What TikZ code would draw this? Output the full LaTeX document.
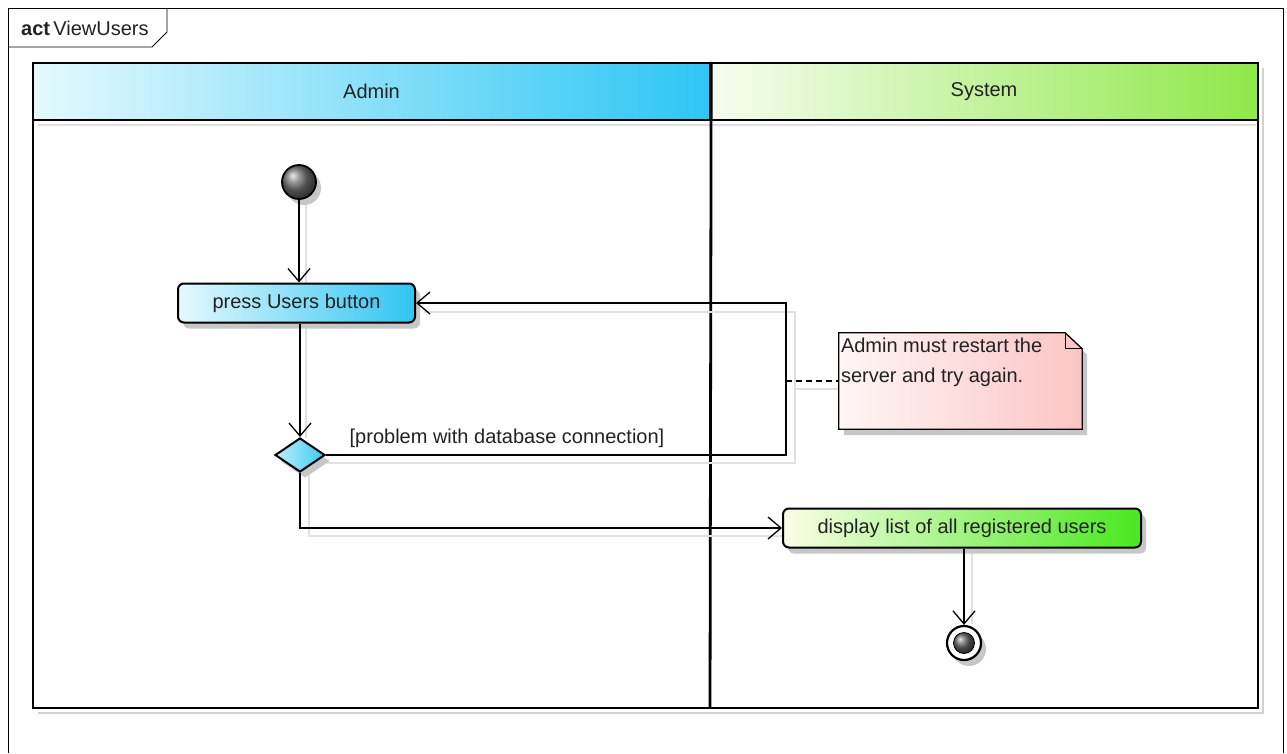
\documentclass[tikz,border=0pt]{standalone}
\usepackage{fontspec}
\setmainfont{Liberation Sans}
\usetikzlibrary{arrows.meta,shapes.geometric,shadows}
\definecolor{adminL}{HTML}{E4F9FE}
\definecolor{adminR}{HTML}{2DC6F4}
\definecolor{sysL}{HTML}{F6FDF0}
\definecolor{sysR}{HTML}{8FE849}
\definecolor{cyanL}{HTML}{E4F9FE}
\definecolor{cyanR}{HTML}{30C4F2}
\definecolor{greenL}{HTML}{FBFEE6}
\definecolor{greenR}{HTML}{48E81E}
\definecolor{noteL}{HTML}{FFF6F6}
\definecolor{noteR}{HTML}{FCC4C4}
\definecolor{diaL}{HTML}{BDEFFB}
\definecolor{diaR}{HTML}{3CCAF3}
\definecolor{txt}{HTML}{222222}
\begin{document}
\begin{tikzpicture}[x=1pt,y=-1pt,
  every node/.style={font=\fontsize{20}{30}\selectfont, text=txt},
  lane/.style={draw, line width=2.4pt},
  header/.style={draw, line width=2.4pt, minimum height=57pt, inner sep=0},
  sh/.style={drop shadow={shadow xshift=5pt, shadow yshift=-6pt, fill=black!22, opacity=1}},
  action/.style={draw, line width=2pt, rounded corners=6pt, minimum height=39pt, inner sep=0, sh},
  flow/.style={line width=1.3pt, -{Straight Barb[length=13pt,width=22pt,line width=1.3pt]}},
  ghost/.style={black!12, line width=1.2pt},
]
\useasboundingbox (0,0) rectangle (1287,753);
\fill[white] (0,0) rectangle (1287,753);

% outer frame and tag
\draw[line width=0.9pt] (8,753) -- (8,8) -- (1283,8) -- (1283,753);
\draw[line width=0.9pt] (8,47) -- (152,47) -- (167,32) -- (167,8);
\node[anchor=west, inner sep=0, font=\fontsize{20}{22}\selectfont] (tag) at (21,28) {\textbf{act}\,ViewUsers};

% swimlanes
\draw[black!18, line width=2pt] (1263,68) -- (1263,713) -- (38,713);
\draw[black!12, line width=2pt] (38,125) -- (1256,125);
\draw[lane] (33,63) rectangle (1258,708);
\node[header, left color=adminL, right color=adminR, minimum width=677pt] (adminH) at (371.5,91.5) {Admin};
\node[header, left color=sysL, right color=sysR, minimum width=548pt] (sysH) at (984,91.5) {System};
\coordinate (divB) at (710,708);
\draw[line width=2.8pt] (adminH.north east) -- (divB);

% ghost (shadow) lines of connectors
\draw[ghost] (306,200) -- (306,284);
\draw[ghost] (306,325) -- (306,438);
\draw[ghost] (327,463) -- (795,463) -- (795,312) -- (424,312);
\draw[ghost] (309,474) -- (309,536) -- (782,536);
\draw[ghost] (795,389) -- (840,389);
\draw[ghost] (972,552) -- (972,624);

% nodes
\node[circle, draw, line width=1.8pt, minimum size=34pt, inner sep=0, ball color=black!55, sh] (init) at (299,182) {};
\node[action, left color=cyanL, right color=cyanR, minimum width=237pt] (press) at (296.5,303) {press Users button};
\node[diamond, draw, line width=2pt, minimum width=50pt, minimum height=34pt, inner sep=0, left color=diaL, right color=diaR, sh] (dec) at (300,455) {};
\node[action, left color=greenL, right color=greenR, minimum width=358pt] (disp) at (962,528) {display list of all registered users};
\node[circle, draw, line width=2.2pt, minimum size=34pt, inner sep=0, fill=white, sh] (final) at (964,643) {};
\node[circle, draw, line width=0.8pt, minimum size=21pt, inner sep=0, ball color=black!60] (finalin) at (final.center) {};

% note
\node[minimum width=243pt, minimum height=96pt, inner sep=0] (note) at (960.5,381) {};
\path[draw, line width=1.3pt, left color=noteL, right color=noteR, sh] (note.north west) -- ([xshift=-17pt]note.north east) -- ([yshift=-16pt]note.north east) -- (note.south east) -- (note.south west) -- cycle;
\draw[line width=1.3pt] ([xshift=-17pt]note.north east) |- ([yshift=-16pt]note.north east);
\node[anchor=north west, align=left, inner xsep=2pt, inner ysep=5pt] (notetext) at (note.north west) {Admin must restart the\\server and try again.};

% connectors
\coordinate (c1) at (786,455);
\coordinate (c3) at (786,381);
\draw[flow] (init) -- (init |- press.north);
\draw[flow] (press.south -| dec.north) -- (dec.north);
\draw[flow] (dec.east) -- (c1) |- (press.east);
\node (guard) at (507,438) {[problem with database connection]};
\draw[flow] (dec.south) |- (disp.west);
\draw[line width=1.3pt, dash pattern=on 6pt off 4pt] (c3) -- (note.west);
\draw[flow] (disp.south -| final.north) -- (final.north);
\end{tikzpicture}
\end{document}
